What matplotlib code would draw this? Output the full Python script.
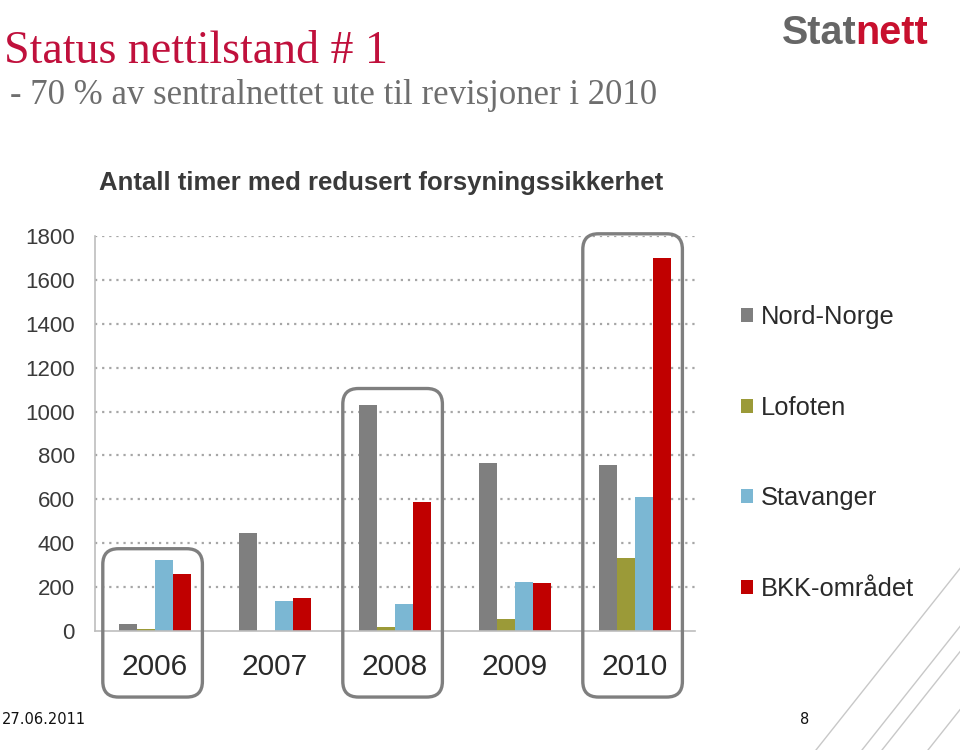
import matplotlib
matplotlib.use("Agg")
import matplotlib.pyplot as plt
from matplotlib.patches import FancyBboxPatch, Patch
from matplotlib.lines import Line2D
import numpy as np

# ---- data ----
years = ["2006", "2007", "2008", "2009", "2010"]
series_names = ["Nord-Norge", "Lofoten", "Stavanger", "BKK-området"]
nord_norge = [32, 447, 1030, 764, 758]
lofoten = [7, 0, 17, 56, 333]
stavanger = [324, 137, 122, 223, 611]
bkk = [260, 150, 587, 217, 1700]
yticks = [0, 200, 400, 600, 800, 1000, 1200, 1400, 1600, 1800]
highlight_idx = [0, 2, 4]
highlight_tops = [375, 1105, 1810]

colors = ["#7f7f7f", "#9b9a38", "#7bb7d3", "#c00000"]

W, H = 960, 750
fig = plt.figure(figsize=(9.6, 7.5), dpi=100)
fig.patch.set_facecolor("white")

def fx(px):
    return px / W

def fy(py):
    return 1 - py / H

ax = fig.add_axes([fx(95), fy(631), fx(695) - fx(95), fy(236) - fy(631)])
x = np.arange(len(years))
bw = 0.15
all_series = [nord_norge, lofoten, stavanger, bkk]
for i, (vals, c) in enumerate(zip(all_series, colors)):
    ax.bar(x + (i - 1.5) * bw, vals, width=bw, color=c, zorder=3, linewidth=0)

ax.set_xlim(-0.5, len(years) - 0.5)
ax.set_ylim(0, 1800)
ax.set_yticks(yticks)
ax.set_yticklabels([str(v) for v in yticks], fontsize=16, color="#3a3a3a",
                   family="Liberation Sans")
ax.set_xticks(x)
ax.set_xticklabels(years, fontsize=21.5, color="#2a2a2a", family="Liberation Sans")
ax.tick_params(axis="y", length=0, pad=14.5)
ax.tick_params(axis="x", length=0, pad=16)
for yv in yticks[1:]:
    ax.axhline(yv, color="#a6a6a6", linestyle=(0, (1, 2.2)), linewidth=1.6, zorder=1)
for s in ["top", "right"]:
    ax.spines[s].set_visible(False)
ax.spines["bottom"].set_color("#bdbdbd")
ax.spines["bottom"].set_linewidth(1.2)
ax.spines["left"].set_color("#bdbdbd")
ax.spines["left"].set_linewidth(1.2)
ax.spines["bottom"].set_zorder(4)

# highlight rounded boxes (data coords)
px_per_x = 120.0
ydata_per_px = 1800 / 395.0
xdata_per_px = 1 / px_per_x
box_bottom = -301
for idx, top in zip(highlight_idx, highlight_tops):
    left = idx - 0.02 - 0.415
    width = 0.83
    box = FancyBboxPatch((left, box_bottom), width, top - box_bottom,
                         boxstyle="round,pad=0,rounding_size=0.13",
                         mutation_aspect=ydata_per_px / xdata_per_px,
                         facecolor="none", edgecolor="#7f7f7f", linewidth=2.4,
                         clip_on=False, zorder=5)
    ax.add_patch(box)

# chart title
fig.text(fx(381), fy(183), "Antall timer med redusert forsyningssikkerhet",
         ha="center", va="center", fontsize=18.5, fontweight="bold",
         color="#3a3a3a", family="Liberation Sans")

# legend
handles = [Patch(facecolor=c, edgecolor="none") for c in colors]
leg = fig.legend(handles, series_names, loc="center left",
                 bbox_to_anchor=(fx(741), fy(453)), frameon=False,
                 prop={"family": "Liberation Sans", "size": 18.4},
                 handlelength=0.47, handleheight=0.47, handletextpad=0.3,
                 labelspacing=2.6, borderpad=0, borderaxespad=0)
for t in leg.get_texts():
    t.set_color("#2a2a2a")

# slide title and subtitle
fig.text(fx(4), fy(63), "Status nettilstand # 1", ha="left", va="baseline",
         fontsize=33, color="#c0103c", family="Liberation Serif")
fig.text(fx(10), fy(104), "- 70 % av sentralnettet ute til revisjoner i 2010",
         ha="left", va="baseline", fontsize=25, color="#6e6e6e",
         family="Liberation Serif")

# logo
t1 = fig.text(fx(782), fy(44), "Stat", ha="left", va="baseline", fontsize=28.5,
              fontweight="heavy", color="#666666", family="Liberation Sans")
fig.canvas.draw()
bb = t1.get_window_extent()
fig.text((bb.x1 - 1) / W, fy(44), "nett", ha="left", va="baseline", fontsize=28.5,
         fontweight="heavy", color="#c8102e", family="Liberation Sans")

# footer
fig.text(fx(2), fy(724), "27.06.2011", ha="left", va="baseline", fontsize=10.5,
         color="#111111", family="Liberation Sans Narrow")
fig.text(fx(805), fy(724), "8", ha="center", va="baseline", fontsize=10.5,
         color="#111111", family="Liberation Sans Narrow")

# decorative diagonal lines bottom-right
slope = 150 / 119.0
for x0 in [816, 862, 882, 928]:
    x1 = 960
    y1 = 750 - (x1 - x0) * slope
    fig.add_artist(Line2D([fx(x0), fx(x1)], [fy(750), fy(y1)],
                          color="#c8c8c8", linewidth=1.0))

fig.savefig("out.png", dpi=100, facecolor="white")
